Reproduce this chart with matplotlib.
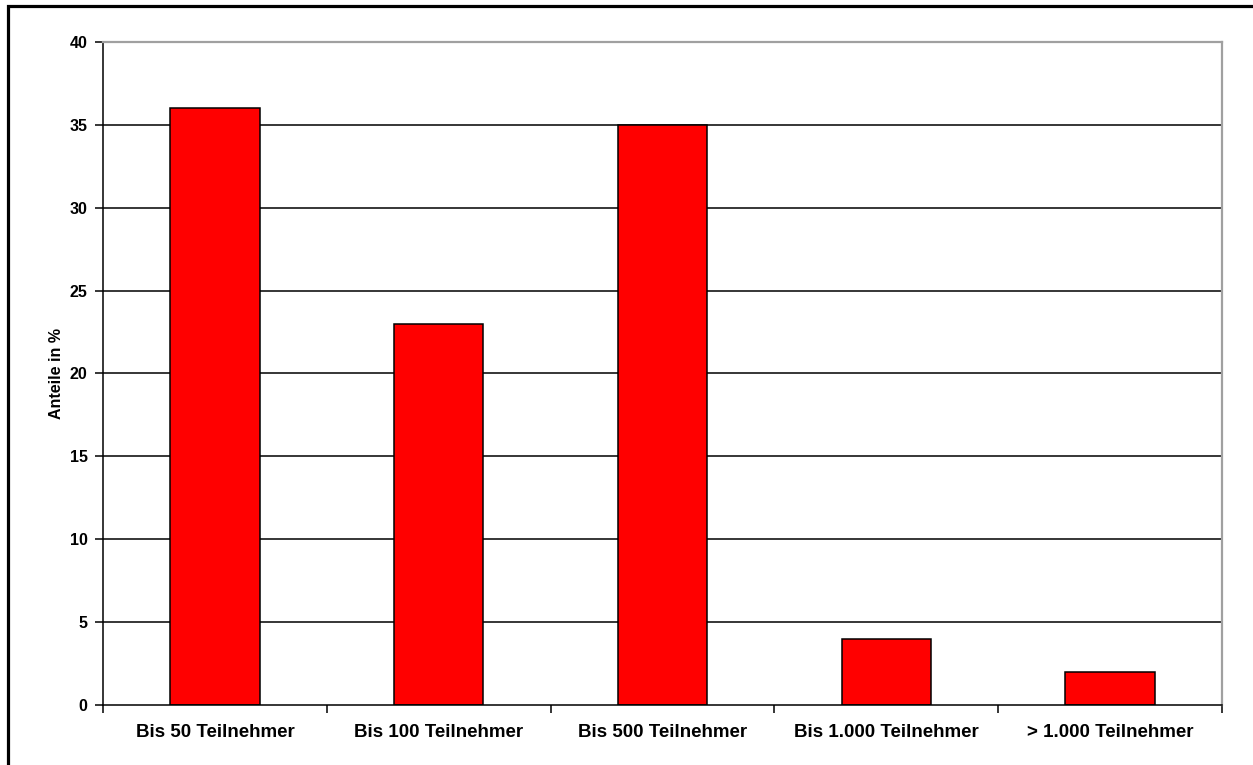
import matplotlib.pyplot as plt
from matplotlib.patches import Rectangle

# Data
categories = ["Bis 50 Teilnehmer", "Bis 100 Teilnehmer", "Bis 500 Teilnehmer",
              "Bis 1.000 Teilnehmer", "> 1.000 Teilnehmer"]
values = [36, 23, 35, 4, 2]
y_ticks = [0, 5, 10, 15, 20, 25, 30, 35, 40]

plt.rcParams['font.family'] = ['Liberation Sans', 'DejaVu Sans']
plt.rcParams['font.weight'] = 'bold'

fig = plt.figure(figsize=(12.53, 7.65), dpi=100)
ax = fig.add_axes([103 / 1253, 1 - 705 / 765, (1222 - 103) / 1253, (705 - 42) / 765])

# horizontal grid lines
for y in y_ticks[1:-1]:
    ax.axhline(y, color='black', linewidth=1.1, zorder=1)

x = list(range(len(categories)))
ax.bar(x, values, width=0.4, color='#ff0000', edgecolor='black', linewidth=1.1, zorder=2)

ax.set_xlim(-0.5, len(categories) - 0.5)
ax.set_ylim(0, 40)
ax.set_yticks(y_ticks)
ax.set_yticklabels([str(v) for v in y_ticks], fontsize=11.5, fontweight='bold')
ax.set_xticks(x)
ax.set_xticklabels(categories, fontsize=13.5, fontweight='bold')
ax.tick_params(axis='x', length=0, pad=14)
ax.set_xticks([i - 0.5 for i in range(len(categories) + 1)], minor=True)
ax.tick_params(axis='x', which='minor', length=6, width=1.1, color='black', direction='out')
ax.tick_params(axis='y', length=6, width=1.1, direction='out', pad=5)
ax.set_ylabel('Anteile in %', fontsize=11.5, fontweight='bold', labelpad=4)

ax.spines['left'].set_color('black')
ax.spines['bottom'].set_color('black')
ax.spines['top'].set_color('#a0a0a0')
ax.spines['right'].set_color('#a0a0a0')
for s in ax.spines.values():
    s.set_linewidth(1.6)
ax.spines['left'].set_linewidth(1.1)
ax.spines['bottom'].set_linewidth(1.1)

# outer frame of the chart (cut off on the right and bottom)
fig.patches.append(Rectangle((8 / 1253, -0.1), 1.2, 1.1 - 6 / 765, transform=fig.transFigure,
                             fill=False, edgecolor='black', linewidth=2.3))

fig.savefig('out.png', dpi=100)
